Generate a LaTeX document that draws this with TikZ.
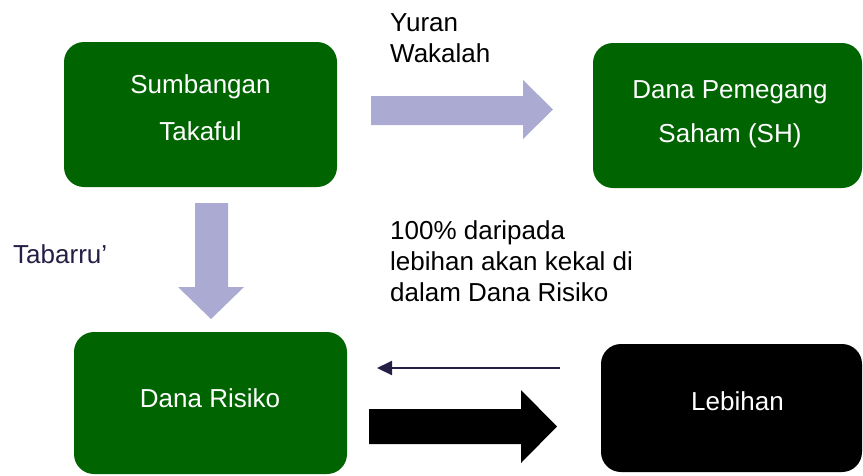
\documentclass[tikz,border=0pt]{standalone}
\usepackage{fontspec}
\setmainfont{Liberation Sans}
\usetikzlibrary{arrows.meta}
\definecolor{boxgreen}{HTML}{006400}
\definecolor{lav}{HTML}{AAAAD2}
\definecolor{navy}{HTML}{241F45}
\tikzset{
  greenbox/.style={fill=boxgreen, draw=none, rounded corners=20pt, inner sep=0pt, outer sep=0pt},
  blackbox/.style={fill=black, draw=none, rounded corners=20pt, inner sep=0pt, outer sep=0pt},
  wtxt/.style={text=white, font=\fontsize{26}{31}\selectfont, inner sep=0pt, anchor=base},
  btxt/.style={text=black, font=\fontsize{26}{31}\selectfont, inner sep=0pt, anchor=base west},
  fatlav/.style={fill=lav, draw=none},
  fatblack/.style={fill=black, draw=none},
  thinarrow/.style={draw=navy, line width=2pt, -{Triangle[length=15pt,width=14pt]}}
}
\begin{document}
\begin{tikzpicture}[x=1pt,y=-1pt]
\useasboundingbox (0,0) rectangle (863,475);
% boxes
\node[greenbox, minimum width=273pt, minimum height=145pt] (st) at (200.5,114.5) {};
\node[greenbox, minimum width=269pt, minimum height=145pt] (sh) at (727.5,115.5) {};
\node[greenbox, minimum width=273pt, minimum height=142pt] (dr) at (210.5,403) {};
\node[blackbox, minimum width=261pt, minimum height=128pt] (lb) at (731.5,408) {};
% box texts
\node[wtxt] (st1) at (200.5,93) {Sumbangan};
\node[wtxt] (st2) at (200.5,140) {Takaful};
\node[wtxt] (sh1) at (730,98) {Dana Pemegang};
\node[wtxt] (sh2) at (730,142) {Saham (SH)};
\node[wtxt] (dr1) at (210,407) {Dana Risiko};
\node[wtxt] (lb1) at (737.5,410) {Lebihan};
% labels
\node[btxt] (yw1) at (390,31.5) {Yuran};
\node[btxt] (yw2) at (390,62.5) {Wakalah};
\node[btxt, text=navy] (tb) at (13,263) {Tabarru’};
\node[btxt] (ls1) at (390,239) {100\% daripada};
\node[btxt] (ls2) at (390,270) {lebihan akan kekal di};
\node[btxt] (ls3) at (390,301) {dalam Dana Risiko};
% fat lavender right arrow
\fill[fatlav] (371,96) -- (523,96) -- (523,80) -- (553,109.5) -- (523,139) -- (523,125) -- (371,125) -- cycle;
% fat lavender down arrow
\fill[fatlav] (195,203) -- (228,203) -- (228,287) -- (244,287) -- (211,319) -- (178,287) -- (195,287) -- cycle;
% fat black right arrow
\fill[fatblack] (369,409) -- (521,409) -- (521,390) -- (557,426.5) -- (521,463) -- (521,444) -- (369,444) -- cycle;
% thin arrow
\coordinate (ta) at (560,368);
\coordinate (tb2) at (377,368);
\draw[thinarrow] (ta) -- (tb2);
\end{tikzpicture}
\end{document}
